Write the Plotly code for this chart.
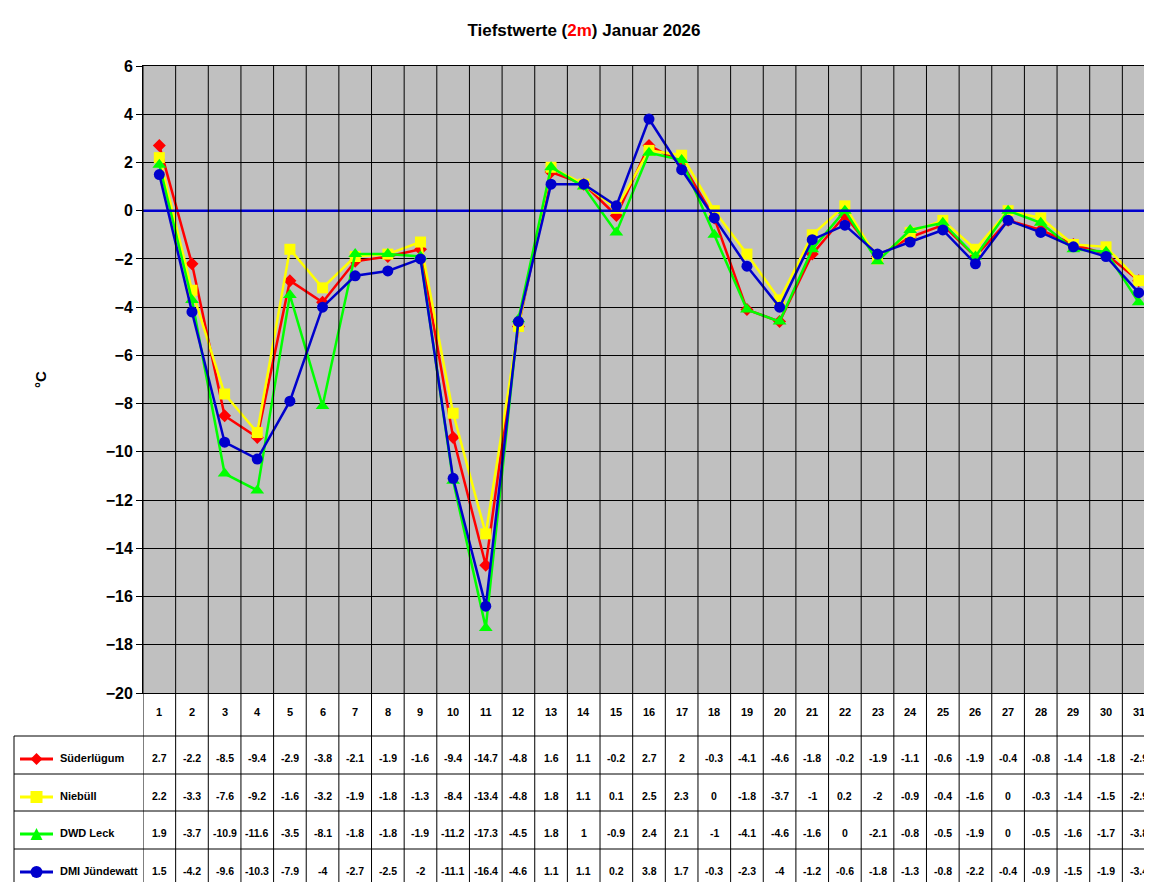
import plotly.graph_objects as go

days = list(range(1, 32))
names = ["Süderlügum", "Niebüll", "DWD Leck", "DMI Jündewatt"]
sued = [2.7,-2.2,-8.5,-9.4,-2.9,-3.8,-2.1,-1.9,-1.6,-9.4,-14.7,-4.8,1.6,1.1,-0.2,2.7,2,-0.3,-4.1,-4.6,-1.8,-0.2,-1.9,-1.1,-0.6,-1.9,-0.4,-0.8,-1.4,-1.8,-2.9]
nieb = [2.2,-3.3,-7.6,-9.2,-1.6,-3.2,-1.9,-1.8,-1.3,-8.4,-13.4,-4.8,1.8,1.1,0.1,2.5,2.3,0,-1.8,-3.7,-1,0.2,-2,-0.9,-0.4,-1.6,0,-0.3,-1.4,-1.5,-2.9]
leck = [1.9,-3.7,-10.9,-11.6,-3.5,-8.1,-1.8,-1.8,-1.9,-11.2,-17.3,-4.5,1.8,1,-0.9,2.4,2.1,-1,-4.1,-4.6,-1.6,0,-2.1,-0.8,-0.5,-1.9,0,-0.5,-1.6,-1.7,-3.8]
dmi = [1.5,-4.2,-9.6,-10.3,-7.9,-4,-2.7,-2.5,-2,-11.1,-16.4,-4.6,1.1,1.1,0.2,3.8,1.7,-0.3,-2.3,-4,-1.2,-0.6,-1.8,-1.3,-0.8,-2.2,-0.4,-0.9,-1.5,-1.9,-3.4]
series = [sued, nieb, leck, dmi]
colors = ["#ff0000", "#ffff00", "#00ff00", "#0000cc"]
symbols = ["diamond", "square", "triangle-up", "circle"]
msizes = [10, 11, 12, 11]

L, R, T, B = 135, 1147, 58, 685
W, H = 1152, 882
def px(x): return (x - L) / (R - L)
def py(y): return (B - y) / (B - T)

fig = go.Figure()
for n, s, c, sym, ms in zip(names, series, colors, symbols, msizes):
    fig.add_trace(go.Scatter(x=days, y=s, mode="lines+markers", name=n,
                             line=dict(color=c, width=2.5),
                             marker=dict(symbol=sym, size=ms, color=c)))

shapes = []
# zero line
shapes.append(dict(type="line", xref="paper", yref="y", x0=0, x1=1, y0=0, y1=0,
                   line=dict(color="#0000cc", width=2.5), layer="above"))
# vertical grid lines through plot & table
for i in range(32):
    shapes.append(dict(type="line", xref="x", yref="paper", x0=i + 0.5, x1=i + 0.5,
                       y0=py(877), y1=1, line=dict(color="black", width=1), layer="below" if False else "above"))
# table horizontal lines
for yy in [728, 766, 803, 841, 877]:
    shapes.append(dict(type="line", xref="paper", yref="paper", x0=px(6), x1=1,
                       y0=py(yy), y1=py(yy), line=dict(color="black", width=1)))
shapes.append(dict(type="line", xref="paper", yref="paper", x0=px(6), x1=px(6),
                   y0=py(728), y1=py(877), line=dict(color="black", width=1)))

ann = []
font = dict(family="Liberation Sans", size=11, color="black")
for d in days:
    ann.append(dict(x=d, y=py(712), xref="x", yref="paper", text=f"<b>{d}</b>",
                    showarrow=False, font=font))
row_tops = [728, 766, 803, 841]
for r, (n, s, c, sym) in enumerate(zip(names, series, colors, symbols)):
    top = row_tops[r]
    ann.append(dict(x=px(50), y=py(top + 30), xref="paper", yref="paper", text=f"<b>{n}</b>",
                    showarrow=False, xanchor="left", font=font))
    for d, v in zip(days, s):
        ann.append(dict(x=d, y=py(top + 30), xref="x", yref="paper", text=f"<b>{v:g}</b>",
                        showarrow=False, font=dict(family="Liberation Sans", size=10.5, color="black")))
    ly = py(top + 23)
    shapes.append(dict(type="line", xref="paper", yref="paper", x0=px(12), x1=px(45),
                       y0=ly, y1=ly, line=dict(color=c, width=3)))
    cx = px(28.5)
    hx = 6 / (R - L); hy = 6 / (B - T)
    if sym == "diamond":
        path = f"M {cx-hx} {ly} L {cx} {ly+hy} L {cx+hx} {ly} L {cx} {ly-hy} Z"
        shapes.append(dict(type="path", xref="paper", yref="paper", path=path, fillcolor=c, line=dict(color=c, width=0)))
    elif sym == "square":
        shapes.append(dict(type="rect", xref="paper", yref="paper", x0=cx-hx, x1=cx+hx, y0=ly-hy, y1=ly+hy, fillcolor=c, line=dict(width=0)))
    elif sym == "triangle-up":
        path = f"M {cx-hx} {ly-hy} L {cx+hx} {ly-hy} L {cx} {ly+hy} Z"
        shapes.append(dict(type="path", xref="paper", yref="paper", path=path, fillcolor=c, line=dict(width=0)))
    else:
        shapes.append(dict(type="circle", xref="paper", yref="paper", x0=cx-hx, x1=cx+hx, y0=ly-hy, y1=ly+hy, fillcolor=c, line=dict(width=0)))

ann.append(dict(x=px(22), y=0.5, xref="paper", yref="paper", text="<b>°C</b>", textangle=-90,
                showarrow=False, font=dict(family="Liberation Sans", size=15, color="black")))

fig.update_layout(
    width=W, height=H, margin=dict(l=L, r=W - R, t=T, b=H - B),
    paper_bgcolor="white", plot_bgcolor="#c0c0c0", showlegend=False,
    title=dict(text="<b>Tiefstwerte (<span style='color:red'>2m</span>) Januar 2026</b>",
               x=0.5, xanchor="center", y=1 - 22 / H, yanchor="middle",
               font=dict(family="Liberation Sans", size=17, color="black")),
    xaxis=dict(range=[0.5, 31.5], showticklabels=False, showgrid=False, zeroline=False,
               showline=True, linecolor="black", mirror=True),
    yaxis=dict(range=[-20, 6], dtick=2, showgrid=True, gridcolor="black", gridwidth=1,
               zeroline=False, showline=True, linecolor="black", mirror=True,
               ticks="outside", ticklen=6, tickcolor="black",
               tickfont=dict(family="Liberation Sans", size=16, color="black"),
               tickprefix="<b>", ticksuffix="</b>"),
    shapes=shapes, annotations=ann,
)
fig.write_html("out.html")
